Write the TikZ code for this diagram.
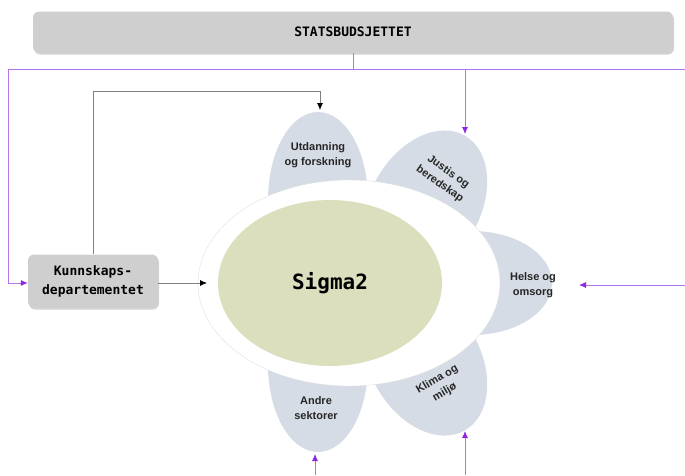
\documentclass[tikz,border=0pt]{standalone}
\usepackage{fontspec}
\setmainfont{Liberation Sans}
\newfontfamily\monofont{DejaVu Sans Mono}
\usetikzlibrary{shadows,arrows.meta}
\definecolor{boxgray}{RGB}{208,207,208}
\definecolor{petalblue}{RGB}{214,220,229}
\definecolor{sigmagreen}{RGB}{220,223,190}
\definecolor{budget}{RGB}{140,40,230}
\tikzset{
  govbox/.style={fill=boxgray, rounded corners=6pt, align=center,
    drop shadow={shadow xshift=1pt, shadow yshift=-2pt, opacity=0.35},
    font=\monofont\bfseries\fontsize{13}{19}\selectfont},
  sector/.style={align=center, text=black!85, font=\bfseries\fontsize{11}{15}\selectfont},
  petal/.style={fill=petalblue},
  budgetline/.style={budget!65, line width=0.8pt},
  funding/.style={budgetline, -{Latex[length=7pt, width=6pt, budget]}},
  link/.style={black!50, line width=0.8pt, -{Latex[length=7pt, width=6pt, black]}},
}
\begin{document}
\begin{tikzpicture}[x=1pt, y=-1pt]
\useasboundingbox (0,0) rectangle (685,475);
% petals
\fill[petal] (318,200) ellipse (50 and 88);
\fill[petal, rotate around={60:(425,205)}] (425,205) ellipse (80 and 55);
\fill[petal] (472,283) ellipse (80 and 52);
\fill[petal, rotate around={-60:(425,361)}] (425,361) ellipse (80 and 55);
\fill[petal] (318,365) ellipse (50 and 87);
% halo and core
\filldraw[fill=white, draw=black!12] (349,283) ellipse (151 and 103);
\fill[sigmagreen] (330,283) ellipse (112 and 83);
\node[font=\monofont\bfseries\fontsize{21}{25}\selectfont] (sigma) at (330,283) {Sigma2};

\node[govbox, minimum width=640, minimum height=41] (stat) at (353,32) {STATSBUDSJETTET};
\node[govbox, minimum width=130, minimum height=53] (kd) at (93,281) {Kunnskaps-\\departementet};

\node[sector] (utd) at (318,155) {Utdanning\\og forskning};
\node[sector, rotate=-35] (jus) at (444,178) {Justis og\\beredskap};
\node[sector] (hel) at (533,285) {Helse og\\omsorg};
\node[sector, rotate=30] (kli) at (441,386) {Klima og\\milj\o};
\node[sector] (and) at (316,408) {Andre\\sektorer};

\coordinate (utd-top) at (320,110);
\coordinate (jus-top) at (465,134);
\coordinate (hel-tip) at (579,285);
\coordinate (kli-tip) at (465,431);
\coordinate (and-tip) at (315,454);
\coordinate (sigma-tip) at (207,283);
\coordinate (left-corner) at (8,69);
\coordinate (right-out) at (685,69);
\coordinate (hel-in) at (685,285);
\coordinate (kli-in) at (465,475);
\coordinate (and-in) at (315,475);

% ministry links
\draw[link] (kd.north) -- ++(0,-163) -| (utd-top);
\draw[link] (kd.east |- sigma-tip) -- (sigma-tip);

% budget lines
\draw[budgetline] (stat.south) |- (right-out);
\draw[funding] (left-corner) -| (jus-top);
\draw[funding] (left-corner) |- (kd.west |- sigma-tip);
\draw[funding] (hel-in) -- (hel-tip);
\draw[funding] (kli-in) -- (kli-tip);
\draw[funding] (and-in) -- (and-tip);
\end{tikzpicture}
\end{document}
